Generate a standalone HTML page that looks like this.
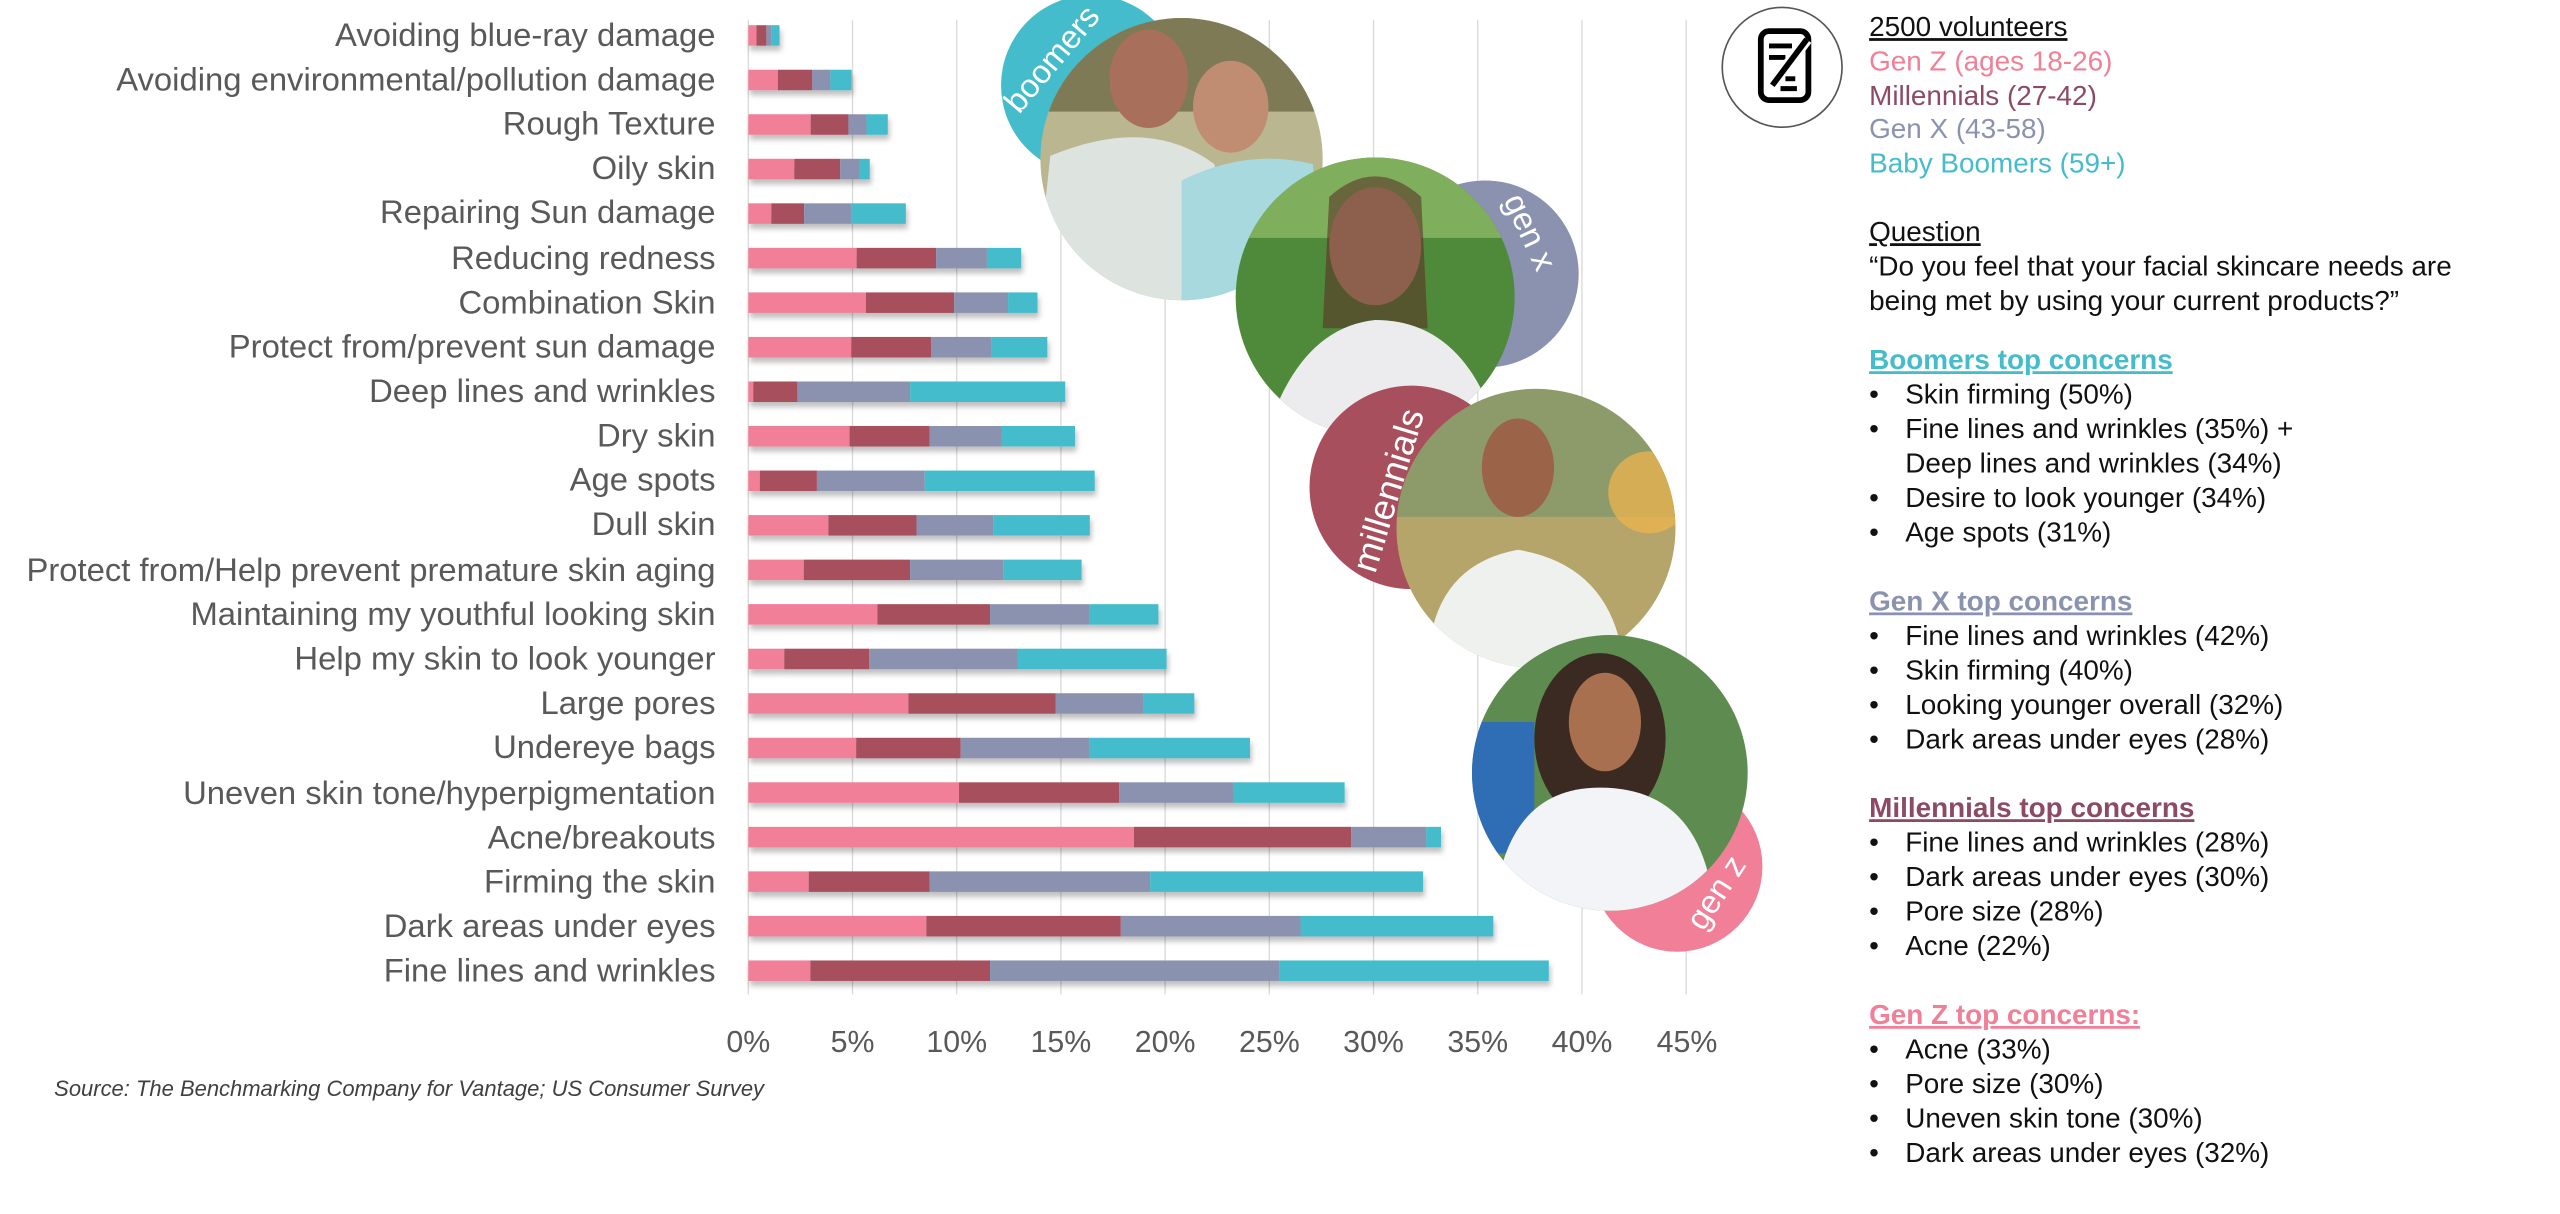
<!DOCTYPE html>
<html><head><meta charset="utf-8"><style>
html,body{margin:0;padding:0;background:#fff;}
svg{display:block;}
text{font-family:"Liberation Sans",sans-serif;}
</style></head><body>
<svg width="2560" height="1214" viewBox="0 0 1560 739.8" xmlns="http://www.w3.org/2000/svg">
<defs>
<filter id="sh" x="-5%" y="-50%" width="110%" height="250%"><feDropShadow dx="1" dy="3" stdDeviation="1.6" flood-color="#000" flood-opacity="0.25"/></filter>
<clipPath id="c1"><circle cx="720" cy="97" r="86"/></clipPath>
<clipPath id="c2"><circle cx="838" cy="181" r="85"/></clipPath>
<clipPath id="c3"><circle cx="936" cy="322" r="85"/></clipPath>
<clipPath id="c4"><circle cx="981" cy="471" r="84"/></clipPath>
</defs>
<g stroke="#d9d9d9" stroke-width="0.8">
<line x1="456" y1="12" x2="456" y2="606"/><line x1="519.5" y1="12" x2="519.5" y2="606"/><line x1="583" y1="12" x2="583" y2="606"/><line x1="646.5" y1="12" x2="646.5" y2="606"/><line x1="710" y1="12" x2="710" y2="606"/><line x1="773.5" y1="12" x2="773.5" y2="606"/><line x1="837" y1="12" x2="837" y2="606"/><line x1="900.5" y1="12" x2="900.5" y2="606"/><line x1="964" y1="12" x2="964" y2="606"/><line x1="1027.5" y1="12" x2="1027.5" y2="606"/>
</g>
<g font-size="20" fill="#595959" text-anchor="end">
<text x="436" y="28">Avoiding blue-ray damage</text>
<text x="436" y="55">Avoiding environmental/pollution damage</text>
<text x="436" y="82">Rough Texture</text>
<text x="436" y="109">Oily skin</text>
<text x="436" y="136">Repairing Sun damage</text>
<text x="436" y="164">Reducing redness</text>
<text x="436" y="191">Combination Skin</text>
<text x="436" y="218">Protect from/prevent sun damage</text>
<text x="436" y="245">Deep lines and wrinkles</text>
<text x="436" y="272">Dry skin</text>
<text x="436" y="299">Age spots</text>
<text x="436" y="326">Dull skin</text>
<text x="436" y="354">Protect from/Help prevent premature skin aging</text>
<text x="436" y="381">Maintaining my youthful looking skin</text>
<text x="436" y="408">Help my skin to look younger</text>
<text x="436" y="435">Large pores</text>
<text x="436" y="462">Undereye bags</text>
<text x="436" y="490">Uneven skin tone/hyperpigmentation</text>
<text x="436" y="517">Acne/breakouts</text>
<text x="436" y="544">Firming the skin</text>
<text x="436" y="571">Dark areas under eyes</text>
<text x="436" y="598">Fine lines and wrinkles</text>
</g>
<g filter="url(#sh)" transform="translate(0,-0.75)">
<g transform="translate(0,16.1)"><rect x="456" width="5" height="12.5" fill="#f07f97"/><rect x="461" width="6" height="12.5" fill="#a84f5d"/><rect x="467" width="3" height="12.5" fill="#8a92b0"/><rect x="470" width="5" height="12.5" fill="#45bccb"/></g>
<g transform="translate(0,43.24)"><rect x="456" width="18" height="12.5" fill="#f07f97"/><rect x="474" width="21" height="12.5" fill="#a84f5d"/><rect x="495" width="11" height="12.5" fill="#8a92b0"/><rect x="506" width="13" height="12.5" fill="#45bccb"/></g>
<g transform="translate(0,70.38)"><rect x="456" width="38" height="12.5" fill="#f07f97"/><rect x="494" width="23" height="12.5" fill="#a84f5d"/><rect x="517" width="11" height="12.5" fill="#8a92b0"/><rect x="528" width="13" height="12.5" fill="#45bccb"/></g>
<g transform="translate(0,97.52)"><rect x="456" width="28" height="12.5" fill="#f07f97"/><rect x="484" width="28" height="12.5" fill="#a84f5d"/><rect x="512" width="12" height="12.5" fill="#8a92b0"/><rect x="524" width="6" height="12.5" fill="#45bccb"/></g>
<g transform="translate(0,124.66)"><rect x="456" width="14" height="12.5" fill="#f07f97"/><rect x="470" width="20" height="12.5" fill="#a84f5d"/><rect x="490" width="29" height="12.5" fill="#8a92b0"/><rect x="519" width="33" height="12.5" fill="#45bccb"/></g>
<g transform="translate(0,151.8)"><rect x="456" width="66" height="12.5" fill="#f07f97"/><rect x="522" width="48.5" height="12.5" fill="#a84f5d"/><rect x="570.5" width="30.9" height="12.5" fill="#8a92b0"/><rect x="601.4" width="20.9" height="12.5" fill="#45bccb"/></g>
<g transform="translate(0,178.94)"><rect x="456" width="71.7" height="12.5" fill="#f07f97"/><rect x="527.7" width="53.7" height="12.5" fill="#a84f5d"/><rect x="581.4" width="32.9" height="12.5" fill="#8a92b0"/><rect x="614.3" width="17.9" height="12.5" fill="#45bccb"/></g>
<g transform="translate(0,206.08)"><rect x="456" width="62.7" height="12.5" fill="#f07f97"/><rect x="518.7" width="48.8" height="12.5" fill="#a84f5d"/><rect x="567.5" width="36.8" height="12.5" fill="#8a92b0"/><rect x="604.3" width="33.9" height="12.5" fill="#45bccb"/></g>
<g transform="translate(0,233.22)"><rect x="456" width="3" height="12.5" fill="#f07f97"/><rect x="459" width="26.9" height="12.5" fill="#a84f5d"/><rect x="485.9" width="68.7" height="12.5" fill="#8a92b0"/><rect x="554.6" width="94.5" height="12.5" fill="#45bccb"/></g>
<g transform="translate(0,260.36)"><rect x="456" width="61.7" height="12.5" fill="#f07f97"/><rect x="517.7" width="48.8" height="12.5" fill="#a84f5d"/><rect x="566.5" width="43.8" height="12.5" fill="#8a92b0"/><rect x="610.3" width="44.8" height="12.5" fill="#45bccb"/></g>
<g transform="translate(0,287.5)"><rect x="456" width="7" height="12.5" fill="#f07f97"/><rect x="463" width="34.8" height="12.5" fill="#a84f5d"/><rect x="497.8" width="65.7" height="12.5" fill="#8a92b0"/><rect x="563.5" width="103.6" height="12.5" fill="#45bccb"/></g>
<g transform="translate(0,314.64)"><rect x="456" width="48.8" height="12.5" fill="#f07f97"/><rect x="504.8" width="53.7" height="12.5" fill="#a84f5d"/><rect x="558.5" width="46.8" height="12.5" fill="#8a92b0"/><rect x="605.3" width="58.8" height="12.5" fill="#45bccb"/></g>
<g transform="translate(0,341.78)"><rect x="456" width="33.8" height="12.5" fill="#f07f97"/><rect x="489.8" width="64.8" height="12.5" fill="#a84f5d"/><rect x="554.6" width="56.7" height="12.5" fill="#8a92b0"/><rect x="611.3" width="47.8" height="12.5" fill="#45bccb"/></g>
<g transform="translate(0,368.92)"><rect x="456" width="78.7" height="12.5" fill="#f07f97"/><rect x="534.7" width="68.6" height="12.5" fill="#a84f5d"/><rect x="603.3" width="60.8" height="12.5" fill="#8a92b0"/><rect x="664.1" width="41.8" height="12.5" fill="#45bccb"/></g>
<g transform="translate(0,396.06)"><rect x="456" width="21.9" height="12.5" fill="#f07f97"/><rect x="477.9" width="51.8" height="12.5" fill="#a84f5d"/><rect x="529.7" width="90.6" height="12.5" fill="#8a92b0"/><rect x="620.3" width="90.6" height="12.5" fill="#45bccb"/></g>
<g transform="translate(0,423.2)"><rect x="456" width="97.6" height="12.5" fill="#f07f97"/><rect x="553.6" width="89.6" height="12.5" fill="#a84f5d"/><rect x="643.2" width="53.8" height="12.5" fill="#8a92b0"/><rect x="697" width="30.8" height="12.5" fill="#45bccb"/></g>
<g transform="translate(0,450.34)"><rect x="456" width="65.7" height="12.5" fill="#f07f97"/><rect x="521.7" width="63.7" height="12.5" fill="#a84f5d"/><rect x="585.4" width="78.7" height="12.5" fill="#8a92b0"/><rect x="664.1" width="97.6" height="12.5" fill="#45bccb"/></g>
<g transform="translate(0,477.48)"><rect x="456" width="128.4" height="12.5" fill="#f07f97"/><rect x="584.4" width="97.6" height="12.5" fill="#a84f5d"/><rect x="682" width="69.7" height="12.5" fill="#8a92b0"/><rect x="751.7" width="67.7" height="12.5" fill="#45bccb"/></g>
<g transform="translate(0,504.62)"><rect x="456" width="235" height="12.5" fill="#f07f97"/><rect x="691" width="132.4" height="12.5" fill="#a84f5d"/><rect x="823.4" width="45.8" height="12.5" fill="#8a92b0"/><rect x="869.2" width="8.9" height="12.5" fill="#45bccb"/></g>
<g transform="translate(0,531.76)"><rect x="456" width="36.8" height="12.5" fill="#f07f97"/><rect x="492.8" width="73.7" height="12.5" fill="#a84f5d"/><rect x="566.5" width="134.4" height="12.5" fill="#8a92b0"/><rect x="700.9" width="166.3" height="12.5" fill="#45bccb"/></g>
<g transform="translate(0,558.9)"><rect x="456" width="108.5" height="12.5" fill="#f07f97"/><rect x="564.5" width="118.5" height="12.5" fill="#a84f5d"/><rect x="683" width="109.5" height="12.5" fill="#8a92b0"/><rect x="792.5" width="117.5" height="12.5" fill="#45bccb"/></g>
<g transform="translate(0,586.04)"><rect x="456" width="37.8" height="12.5" fill="#f07f97"/><rect x="493.8" width="109.5" height="12.5" fill="#a84f5d"/><rect x="603.3" width="176.3" height="12.5" fill="#8a92b0"/><rect x="779.6" width="164.2" height="12.5" fill="#45bccb"/></g>
</g>
<g font-size="18.5" fill="#595959" text-anchor="middle">
<text x="456" y="641">0%</text><text x="519.5" y="641">5%</text><text x="583" y="641">10%</text><text x="646.5" y="641">15%</text><text x="710" y="641">20%</text><text x="773.5" y="641">25%</text><text x="837" y="641">30%</text><text x="900.5" y="641">35%</text><text x="964" y="641">40%</text><text x="1028" y="641">45%</text>
</g>
<text x="33" y="668" font-size="13.4" font-style="italic" fill="#404040">Source: The Benchmarking Company for Vantage; US Consumer Survey</text>
<circle cx="665" cy="52" r="55" fill="#45bccb"/>
<text font-size="20" fill="#fff" transform="translate(621,70) rotate(-50)">boomers</text>
<g clip-path="url(#c1)">
<rect x="630" y="8" width="180" height="180" fill="#b9b690"/>
<rect x="630" y="8" width="180" height="60" fill="#7d7a55"/>
<ellipse cx="700" cy="48" rx="24" ry="30" fill="#a8705a"/>
<ellipse cx="750" cy="65" rx="23" ry="28" fill="#c08c72"/>
<path d="M640 95 Q700 70 740 100 L760 190 L630 190Z" fill="#dde3df"/>
<path d="M720 110 Q760 90 800 100 L810 190 L720 190Z" fill="#a8d9de"/>
</g>
<circle cx="905" cy="167" r="57" fill="#8a92b0"/>
<text font-size="20" fill="#fff" transform="translate(916,122) rotate(65)">gen x</text>
<g clip-path="url(#c2)">
<rect x="750" y="95" width="180" height="180" fill="#4f8a3b"/>
<rect x="750" y="95" width="180" height="50" fill="#7fae5c"/>
<ellipse cx="838" cy="150" rx="28" ry="36" fill="#d6a287"/>
<path d="M810 120 Q838 95 866 120 L870 200 L806 200Z" fill="#5a3426" opacity="0.6"/>
<path d="M770 270 Q790 200 838 195 Q895 195 915 270Z" fill="#ececef"/>
</g>
<circle cx="860" cy="297" r="62" fill="#a84f5d"/>
<text font-size="22" fill="#fff" transform="translate(838,350) rotate(-73)">millennials</text>
<g clip-path="url(#c3)">
<rect x="850" y="235" width="175" height="175" fill="#b5a56a"/>
<rect x="850" y="235" width="175" height="80" fill="#8d9a6a"/>
<circle cx="1005" cy="300" r="25" fill="#f2b54c" opacity="0.7"/>
<ellipse cx="925" cy="285" rx="22" ry="30" fill="#9b6448"/>
<path d="M870 410 Q870 345 925 335 Q985 345 990 410Z" fill="#eef1ee"/>
</g>
<circle cx="1022" cy="528" r="52" fill="#f07f97"/>
<g clip-path="url(#c4)">
<rect x="895" y="385" width="175" height="175" fill="#5e8c50"/>
<rect x="895" y="440" width="40" height="80" fill="#2f6db5"/>
<ellipse cx="975" cy="450" rx="40" ry="52" fill="#3a2a22"/>
<ellipse cx="978" cy="440" rx="22" ry="30" fill="#a8704f"/>
<path d="M910 560 Q915 480 975 480 Q1040 480 1045 560Z" fill="#f2f4f8"/>
</g>
<text font-size="20" fill="#fff" transform="translate(1038,568) rotate(-57)">gen z</text>
<circle cx="1086" cy="41" r="36.5" fill="none" stroke="#555" stroke-width="1"/>
<rect x="1073" y="19" width="29" height="42" rx="5" fill="none" stroke="#000" stroke-width="3.5"/>
<line x1="1078" y1="28" x2="1092" y2="28" stroke="#000" stroke-width="3"/>
<line x1="1078" y1="35" x2="1088" y2="35" stroke="#000" stroke-width="3"/>
<line x1="1080" y1="52" x2="1101" y2="24" stroke="#fff" stroke-width="7"/>
<line x1="1080" y1="52" x2="1101" y2="24" stroke="#000" stroke-width="3.5"/>
<line x1="1088" y1="48" x2="1094" y2="48" stroke="#000" stroke-width="3"/>
<line x1="1085" y1="54" x2="1095" y2="54" stroke="#000" stroke-width="3"/>
<g font-size="17" fill="#111">
<text x="1139" y="22" text-decoration="underline">2500 volunteers</text>
<text x="1139" y="43" fill="#f07f97">Gen Z (ages 18-26)</text>
<text x="1139" y="64" fill="#8c4a64">Millennials (27-42)</text>
<text x="1139" y="84" fill="#8a92b0">Gen X (43-58)</text>
<text x="1139" y="105" fill="#45bccb">Baby Boomers (59+)</text>
<text x="1139" y="147" text-decoration="underline">Question</text>
<text x="1139" y="168">“Do you feel that your facial skincare needs are</text>
<text x="1139" y="189">being met by using your current products?”</text>
<text x="1139" y="225" fill="#45bccb" font-weight="bold" text-decoration="underline">Boomers top concerns</text>
<text x="1139" y="246">•</text><text x="1161" y="246">Skin firming (50%)</text>
<text x="1139" y="267">•</text><text x="1161" y="267">Fine lines and wrinkles (35%) +</text>
<text x="1161" y="288">Deep lines and wrinkles (34%)</text>
<text x="1139" y="309">•</text><text x="1161" y="309">Desire to look younger (34%)</text>
<text x="1139" y="330">•</text><text x="1161" y="330">Age spots (31%)</text>
<text x="1139" y="372" fill="#8a92b0" font-weight="bold" text-decoration="underline">Gen X top concerns</text>
<text x="1139" y="393">•</text><text x="1161" y="393">Fine lines and wrinkles (42%)</text>
<text x="1139" y="414">•</text><text x="1161" y="414">Skin firming (40%)</text>
<text x="1139" y="435">•</text><text x="1161" y="435">Looking younger overall (32%)</text>
<text x="1139" y="456">•</text><text x="1161" y="456">Dark areas under eyes (28%)</text>
<text x="1139" y="498" fill="#8c4a64" font-weight="bold" text-decoration="underline">Millennials top concerns</text>
<text x="1139" y="519">•</text><text x="1161" y="519">Fine lines and wrinkles (28%)</text>
<text x="1139" y="540">•</text><text x="1161" y="540">Dark areas under eyes (30%)</text>
<text x="1139" y="561">•</text><text x="1161" y="561">Pore size (28%)</text>
<text x="1139" y="582">•</text><text x="1161" y="582">Acne (22%)</text>
<text x="1139" y="624" fill="#f07f97" font-weight="bold" text-decoration="underline">Gen Z top concerns:</text>
<text x="1139" y="645">•</text><text x="1161" y="645">Acne (33%)</text>
<text x="1139" y="666">•</text><text x="1161" y="666">Pore size (30%)</text>
<text x="1139" y="687">•</text><text x="1161" y="687">Uneven skin tone (30%)</text>
<text x="1139" y="708">•</text><text x="1161" y="708">Dark areas under eyes (32%)</text>
</g>
</svg>
</body></html>
